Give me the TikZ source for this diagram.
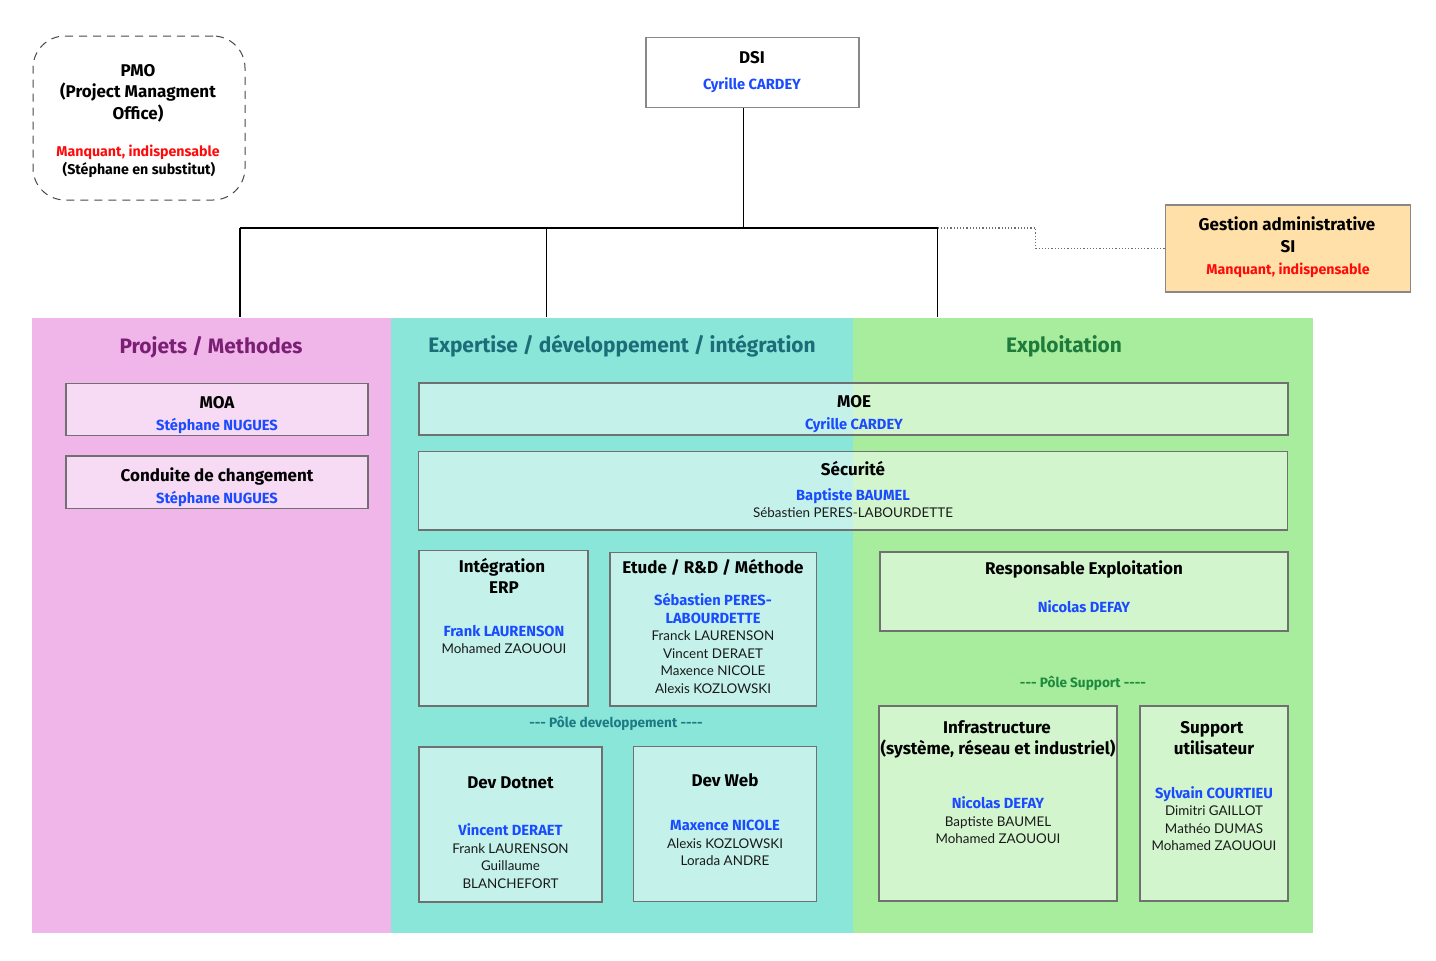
\documentclass[tikz,border=0pt]{standalone}
\usepackage{fontspec}
\setmainfont{Lato}
\newfontfamily\fb{Fira Sans}
\definecolor{pinkbg}{HTML}{F0B6EA}
\definecolor{tealbg}{HTML}{8AE6D8}
\definecolor{greenbg}{HTML}{A8EC9E}
\definecolor{ptitle}{HTML}{7A1F73}
\definecolor{ttitle}{HTML}{1C6D78}
\definecolor{gtitle}{HTML}{1E7B3B}
\definecolor{tpole}{HTML}{1C7A85}
\definecolor{gpole}{HTML}{1E8A3E}
\definecolor{nblue}{HTML}{1A4BFF}
\definecolor{nred}{HTML}{FF0A0A}
\definecolor{ink}{HTML}{1A1A1A}
\definecolor{bord}{HTML}{707070}
\definecolor{gbord}{HTML}{888888}
\definecolor{wheat}{HTML}{FFE0A8}
\tikzset{
  col/.style={draw=none, inner sep=0pt},
  box/.style={draw=bord, line width=1.2pt, fill=white, fill opacity=0.5, inner sep=0pt},
  tl/.style={inner sep=0pt, anchor=center, text depth=0pt},
  hd/.style={tl, text height=12pt, font=\fontsize{17}{20}\fb\bfseries, text=black},
  nm/.style={tl, text height=10.3pt, font=\fontsize{14.7}{17}\fb\bfseries, text=nblue},
  pp/.style={tl, text height=9.5pt, font=\fontsize{13.4}{16}\selectfont, text=ink},
  rd/.style={tl, text height=10pt, font=\fontsize{14.2}{17}\fb\bfseries, text=nred},
  bk/.style={tl, text height=10pt, font=\fontsize{14.2}{17}\fb\bfseries, text=black},
  ct/.style={tl, text height=14.5pt, font=\fontsize{20.9}{24}\fb\bfseries},
  pole/.style={tl, text height=9.6pt, font=\fontsize{13.6}{16}\fb\bfseries},
  link/.style={draw=black, line width=1.5pt},
  dlink/.style={draw=gbord!80!black, line width=1.2pt, dash pattern=on 1.2pt off 2pt},
}
\begin{document}
\begin{tikzpicture}[x=1pt,y=-1pt]
\useasboundingbox (0,0) rectangle (1436,961);
% columns
\node[col, fill=pinkbg, minimum width=358.5pt, minimum height=615.5pt] (colP) at (211.25,625.25) {};
\node[col, fill=tealbg, minimum width=462pt, minimum height=615.5pt] (colE) at (621.5,625.25) {};
\node[col, fill=greenbg, minimum width=460.5pt, minimum height=615.5pt] (colX) at (1082.75,625.25) {};
\node[ct, text=ptitle] (tP) at (211,346) {Projets / Methodes};
\node[ct, text=ttitle] (tE) at (622,345) {Expertise / développement / intégration};
\node[ct, text=gtitle] (tX) at (1064,345) {Exploitation};

% PMO
\node[draw=ink!80, line width=1pt, dash pattern=on 8pt off 6pt, rounded corners=32pt, minimum width=212pt, minimum height=164pt, inner sep=0pt] (pmo) at (139,118) {};
\node[hd] (pmo1) at (138,70) {PMO};
\node[hd] (pmo2) at (138,91.5) {(Project Managment};
\node[hd] (pmo3) at (138,113) {Office)};
\node[rd] (pmo4) at (138,151) {Manquant, indispensable};
\node[bk] (pmo5) at (139,169) {(Stéphane en substitut)};

% DSI
\node[draw=gbord, line width=1.2pt, fill=white, minimum width=213pt, minimum height=70pt, inner sep=0pt] (dsi) at (752.5,72.5) {};
\node[hd] (dsi1) at (752,57) {DSI};
\node[nm] (dsi2) at (752,84.5) {Cyrille CARDEY};

% Gestion administrative
\node[draw=gbord, line width=1.2pt, fill=wheat, minimum width=244.5pt, minimum height=87pt, inner sep=0pt] (gest) at (1288,248.5) {};
\node[hd] (gest1) at (1287,224.5) {Gestion administrative};
\node[hd] (gest2) at (1288,246) {SI};
\node[rd] (gest3) at (1288,269.5) {Manquant, indispensable};

% connectors
\coordinate (j0) at (743.5,228);
\coordinate (j1) at (240,228);
\coordinate (j2) at (546.5,228);
\coordinate (j3) at (937.5,228);
\coordinate (d1) at (1035.5,228);
\draw[link] (j0 |- dsi.south) -- (j0);
\draw[link] (j1) -- (j3);
\draw[link] (j1) -- (j1 |- colP.north);
\draw[link] (j2) -- (j2 |- colE.north);
\draw[link] (j3) -- (j3 |- colX.north);
\draw[dlink] (j3) -- (d1) |- (gest.west);

% Projets / Methodes
\node[box, minimum width=302pt, minimum height=52pt] (moa) at (217,409.5) {};
\node[hd] (moa1) at (217,402) {MOA};
\node[nm] (moa2) at (217,425.5) {Stéphane NUGUES};
\node[box, minimum width=302pt, minimum height=52.5pt] (cdc) at (217,482.25) {};
\node[hd] (cdc1) at (217,475) {Conduite de changement};
\node[nm] (cdc2) at (217,498.5) {Stéphane NUGUES};

% MOE / Securite
\node[box, minimum width=869pt, minimum height=52pt] (moe) at (853.5,409) {};
\node[hd] (moe1) at (854,401.5) {MOE};
\node[nm] (moe2) at (854,424.5) {Cyrille CARDEY};
\node[box, minimum width=869pt, minimum height=78.5pt] (secu) at (853,490.75) {};
\node[hd] (secu1) at (853,469.5) {Sécurité};
\node[nm] (secu2) at (853,495) {Baptiste BAUMEL};
\node[pp] (secu3) at (853,512.5) {Sébastien PERES-LABOURDETTE};

% Integration ERP
\node[box, minimum width=169pt, minimum height=155.5pt] (erp) at (503.5,628.25) {};
\node[hd] (erp1) at (502,566) {Intégration};
\node[hd] (erp2) at (504,587.5) {ERP};
\node[nm] (erp3) at (504,631) {Frank LAURENSON};
\node[pp] (erp4) at (504,649) {Mohamed ZAOUOUI};

% Etude
\node[box, minimum width=206.5pt, minimum height=153.5pt] (etu) at (713.25,629.25) {};
\node[hd] (etu1) at (713,567.5) {Etude / R\&D / Méthode};
\node[nm] (etu2) at (713,600) {Sébastien PERES-};
\node[nm] (etu3) at (713,618) {LABOURDETTE};
\node[pp] (etu4) at (713,636) {Franck LAURENSON};
\node[pp] (etu5) at (713,653.5) {Vincent DERAET};
\node[pp] (etu6) at (713,671) {Maxence NICOLE};
\node[pp] (etu7) at (713,688.5) {Alexis KOZLOWSKI};

\node[pole, text=tpole] (pdev) at (616,722.5) {{-}{-}{-} Pôle developpement {-}{-}{-}{-}};

% Dev Dotnet
\node[box, minimum width=183pt, minimum height=155pt] (dot) at (510.5,824.5) {};
\node[hd] (dot1) at (510.5,782.5) {Dev Dotnet};
\node[nm] (dot2) at (510.5,830.5) {Vincent DERAET};
\node[pp] (dot3) at (510.5,848.5) {Frank LAURENSON};
\node[pp] (dot4) at (510.5,866) {Guillaume};
\node[pp] (dot5) at (510.5,884) {BLANCHEFORT};

% Dev Web
\node[box, minimum width=183pt, minimum height=155pt] (web) at (725,824) {};
\node[hd] (web1) at (725,780) {Dev Web};
\node[nm] (web2) at (725,825.5) {Maxence NICOLE};
\node[pp] (web3) at (725,843.5) {Alexis KOZLOWSKI};
\node[pp] (web4) at (725,861) {Lorada ANDRE};

% Responsable Exploitation
\node[box, minimum width=408pt, minimum height=79pt] (resp) at (1084,591.5) {};
\node[hd] (resp1) at (1084,568.5) {Responsable Exploitation};
\node[nm] (resp2) at (1084,607.5) {Nicolas DEFAY};

\node[pole, text=gpole] (psup) at (1083,682.5) {{-}{-}{-} Pôle Support {-}{-}{-}{-}};

% Infrastructure
\node[box, minimum width=238pt, minimum height=195pt] (inf) at (998,803.5) {};
\node[hd] (inf1) at (997,727) {Infrastructure};
\node[hd] (inf2) at (998,748.5) {(système, réseau et industriel)};
\node[nm] (inf3) at (998,803.5) {Nicolas DEFAY};
\node[pp] (inf4) at (998,821.5) {Baptiste BAUMEL};
\node[pp] (inf5) at (998,839) {Mohamed ZAOUOUI};

% Support utilisateur
\node[box, minimum width=148pt, minimum height=195pt] (sup) at (1214,803.5) {};
\node[hd] (sup1) at (1212,727) {Support};
\node[hd] (sup2) at (1214,748.5) {utilisateur};
\node[nm] (sup3) at (1214,793.5) {Sylvain COURTIEU};
\node[pp] (sup4) at (1214,811) {Dimitri GAILLOT};
\node[pp] (sup5) at (1214,829) {Mathéo DUMAS};
\node[pp] (sup6) at (1214,846) {Mohamed ZAOUOUI};
\end{tikzpicture}
\end{document}
